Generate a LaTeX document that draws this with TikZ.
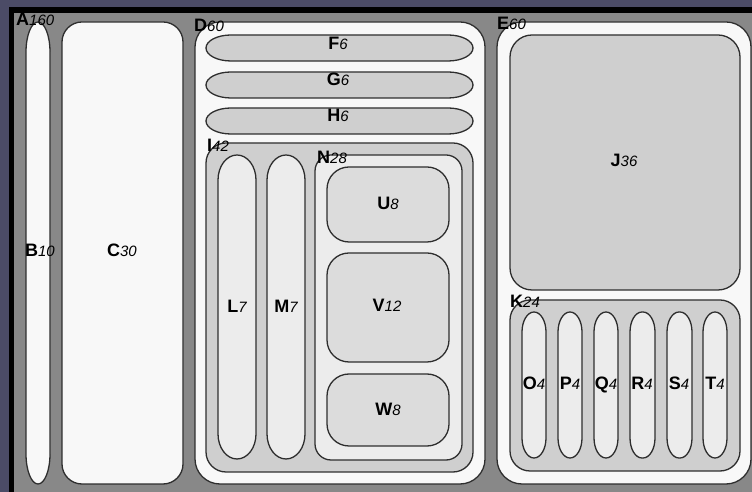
\documentclass[tikz,border=0pt]{standalone}
\usepackage{fontspec}
\setmainfont{Liberation Sans}
\definecolor{slate}{HTML}{4B4B66}
\definecolor{frameg}{HTML}{888888}
\definecolor{wfill}{HTML}{F8F8F8}
\definecolor{gA}{HTML}{CFCFCF}
\definecolor{gB}{HTML}{ECECEC}
\definecolor{gC}{HTML}{DCDCDC}
\definecolor{edgec}{HTML}{2E2E2E}
% rounded box with elliptical corners, pixel coords (y down)
\newcommand{\rbx}[7]{\draw[boxline,#1] ({#2},{492-#3-#7}) arc[start angle=180,end angle=90,x radius=#6,y radius=#7] -- ({#4-#6},{492-#3}) arc[start angle=90,end angle=0,x radius=#6,y radius=#7] -- ({#4},{492-#5+#7}) arc[start angle=0,end angle=-90,x radius=#6,y radius=#7] -- ({#2+#6},{492-#5}) arc[start angle=-90,end angle=-180,x radius=#6,y radius=#7] -- cycle;}
\newcommand{\lt}[2]{{\fontsize{18}{18}\selectfont\bfseries #1}{\fontsize{15}{15}\selectfont\itshape #2}}
\begin{document}
\begin{tikzpicture}[x=1pt,y=1pt,
  boxline/.style={draw=edgec,line width=1.3pt},
  lab/.style={inner sep=0pt,text=black}]
\useasboundingbox (0,0) rectangle (752,492);
\fill[slate] (0,0) rectangle (752,492);
\fill[black] (9,0) rectangle (752,{492-7});
\fill[frameg] (14,0) rectangle (752,{492-13});
% level 1
\rbx{fill=wfill}{26}{22}{50}{484}{12}{30}
\rbx{fill=wfill}{62}{22}{183}{484}{20}{20}
\rbx{fill=wfill}{195}{22}{485}{484}{25}{25}
\rbx{fill=wfill}{497}{22}{751}{484}{25}{25}
% D contents
\rbx{fill=gA}{206}{35}{473}{61}{25}{13}
\rbx{fill=gA}{206}{72}{473}{98}{25}{13}
\rbx{fill=gA}{206}{108}{473}{134}{25}{13}
\rbx{fill=gA}{206}{143}{473}{472}{20}{20}
\rbx{fill=gB}{218}{155}{256}{459}{19}{25}
\rbx{fill=gB}{267}{155}{305}{459}{19}{25}
\rbx{fill=gB}{315}{155}{462}{460}{16}{16}
\rbx{fill=gC}{327}{167}{449}{242}{22}{22}
\rbx{fill=gC}{327}{253}{449}{362}{22}{22}
\rbx{fill=gC}{327}{374}{449}{446}{22}{22}
% E contents
\rbx{fill=gA}{510}{35}{740}{290}{22}{22}
\rbx{fill=gA}{510}{300}{740}{471}{20}{20}
\rbx{fill=gB}{522}{312}{546}{458}{12}{20}
\rbx{fill=gB}{558}{312}{582}{458}{12}{20}
\rbx{fill=gB}{594}{312}{618}{458}{12}{20}
\rbx{fill=gB}{630}{312}{655}{458}{12}{20}
\rbx{fill=gB}{667}{312}{692}{458}{12}{20}
\rbx{fill=gB}{703}{312}{727}{458}{12}{20}
% corner labels
\node[lab,anchor=base west] (lA) at (16,{492-26}) {\lt{A}{160}};
\node[lab,anchor=base west] (lD) at (194,{492-32}) {\lt{D}{60}};
\node[lab,anchor=base west] (lE) at (497,{492-30}) {\lt{E}{60}};
\node[lab,anchor=base west] (lI) at (207,{492-152}) {\lt{I}{42}};
\node[lab,anchor=base west] (lN) at (317,{492-164}) {\lt{N}{28}};
\node[lab,anchor=base west] (lK) at (510,{492-308}) {\lt{K}{24}};
% centred labels
\node[lab,anchor=base] (lB) at (40,{492-257}) {\lt{B}{10}};
\node[lab,anchor=base] (lC) at (122,{492-257}) {\lt{C}{30}};
\node[lab,anchor=base] (lF) at (338,{492-50}) {\lt{F}{6}};
\node[lab,anchor=base] (lG) at (338,{492-86}) {\lt{G}{6}};
\node[lab,anchor=base] (lH) at (338,{492-122}) {\lt{H}{6}};
\node[lab,anchor=base] (lL) at (237,{492-313}) {\lt{L}{7}};
\node[lab,anchor=base] (lM) at (286,{492-313}) {\lt{M}{7}};
\node[lab,anchor=base] (lU) at (388,{492-210}) {\lt{U}{8}};
\node[lab,anchor=base] (lV) at (387,{492-312}) {\lt{V}{12}};
\node[lab,anchor=base] (lW) at (388,{492-416}) {\lt{W}{8}};
\node[lab,anchor=base] (lJ) at (624,{492-167}) {\lt{J}{36}};
\node[lab,anchor=base] (lO) at (534,{492-390}) {\lt{O}{4}};
\node[lab,anchor=base] (lP) at (570,{492-390}) {\lt{P}{4}};
\node[lab,anchor=base] (lQ) at (606,{492-390}) {\lt{Q}{4}};
\node[lab,anchor=base] (lR) at (642,{492-390}) {\lt{R}{4}};
\node[lab,anchor=base] (lS) at (679,{492-390}) {\lt{S}{4}};
\node[lab,anchor=base] (lT) at (715,{492-390}) {\lt{T}{4}};
\end{tikzpicture}
\end{document}
